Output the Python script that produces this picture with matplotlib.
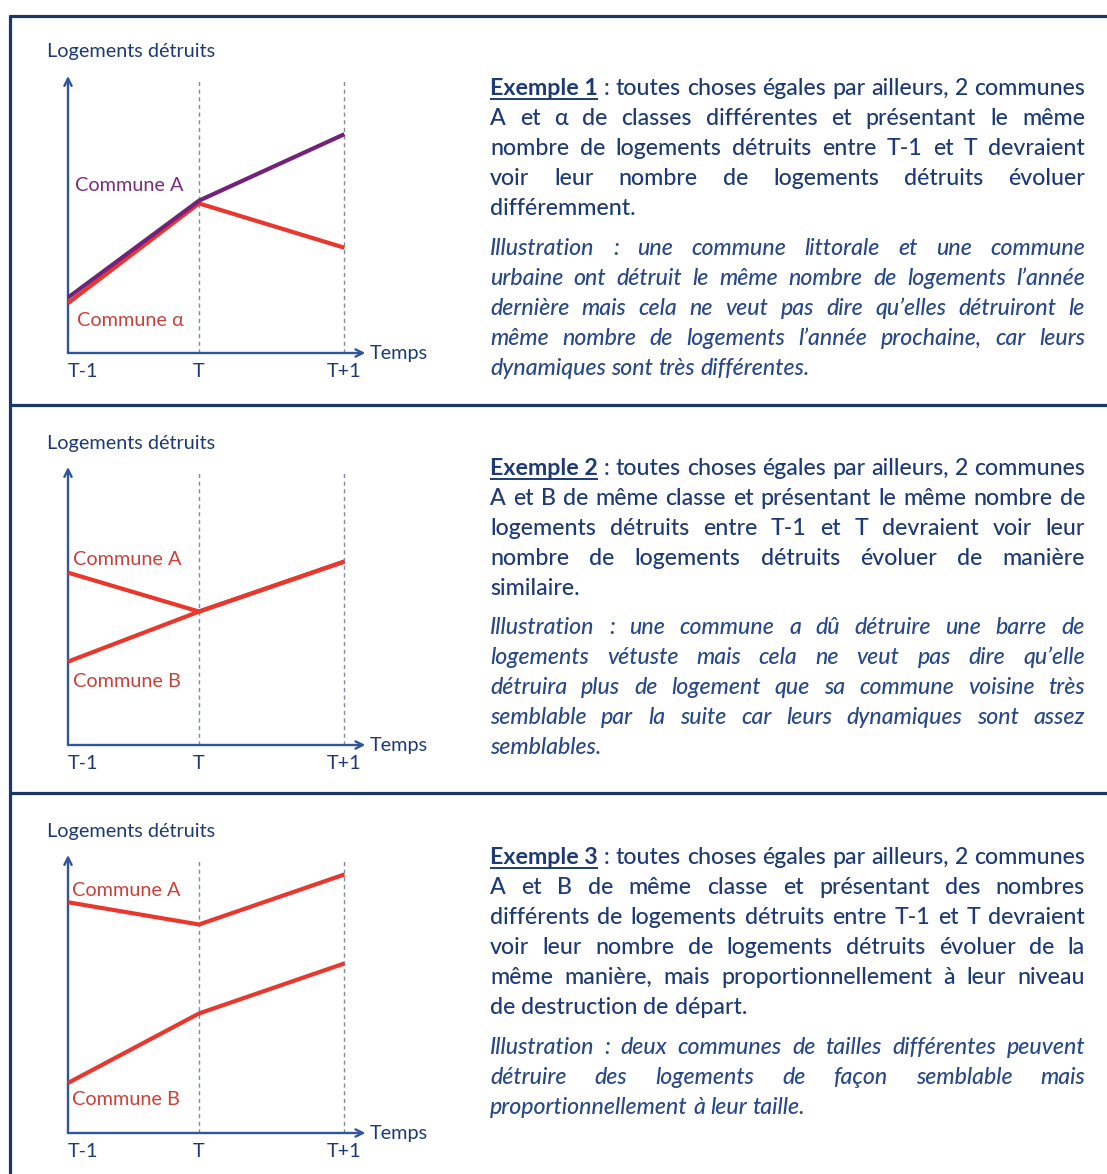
import matplotlib
matplotlib.use('Agg')
import matplotlib.pyplot as plt

# ---------------- data ----------------
time_labels = ["T-1", "T", "T+1"]
time_pos = [0.0, 1.0, 2.11]

ex1_commune_A = [20, 55, 79]
ex1_commune_alpha = [18, 54, 38]
ex2_commune_A = [62, 48, 66]
ex2_commune_B = [30, 48, 66]
ex3_commune_A = [83, 75, 93]
ex3_commune_B = [18, 43, 61]

y_axis_label = "Logements détruits"
x_axis_label = "Temps"

ex1_main = ["toutes choses égales par ailleurs, 2 communes",
            "A et α de classes différentes et présentant le même",
            "nombre de logements détruits entre T-1 et T devraient",
            "voir leur nombre de logements détruits évoluer",
            "différemment."]
ex1_illus = ["Illustration : une commune littorale et une commune",
             "urbaine ont détruit le même nombre de logements l’année",
             "dernière mais cela ne veut pas dire qu’elles détruiront le",
             "même nombre de logements l’année prochaine, car leurs",
             "dynamiques sont très différentes."]
ex2_main = ["toutes choses égales par ailleurs, 2 communes",
            "A et B de même classe et présentant le même nombre de",
            "logements détruits entre T-1 et T devraient voir leur",
            "nombre de logements détruits évoluer de manière",
            "similaire."]
ex2_illus = ["Illustration : une commune a dû détruire une barre de",
             "logements vétuste mais cela ne veut pas dire qu’elle",
             "détruira plus de logement que sa commune voisine très",
             "semblable par la suite car leurs dynamiques sont assez",
             "semblables."]
ex3_main = ["toutes choses égales par ailleurs, 2 communes",
            "A et B de même classe et présentant des nombres",
            "différents de logements détruits entre T-1 et T devraient",
            "voir leur nombre de logements détruits évoluer de la",
            "même manière, mais proportionnellement à leur niveau",
            "de destruction de départ."]
ex3_illus = ["Illustration : deux communes de tailles différentes peuvent",
             "détruire des logements de façon semblable mais",
             "proportionnellement à leur taille."]

# ---------------- style ----------------
W, H, DPI = 1107, 1174, 100
NAVY = '#1B3667'
AXIS = '#2F559A'
DASH = '#7F8BA6'
TXT = '#1D3A74'
ITXT = '#284887'
RED = '#E8382E'
RED_TXT = '#C9413A'
PURPLE = '#74217A'
PURPLE_TXT = '#7A2D7E'
FAM = ['Lato', 'DejaVu Sans']
CFS = 14.3  # chart label font size

fig = plt.figure(figsize=(W / DPI, H / DPI), dpi=DPI)
fig.patch.set_facecolor('white')
bg = fig.add_axes([0, 0, 1, 1])
bg.set_xlim(0, W)
bg.set_ylim(H, 0)
bg.axis('off')

# frame lines
blw = 2.3
bg.plot([9, W], [16, 16], color=NAVY, lw=blw, solid_capstyle='butt')
bg.plot([10, 10], [15, H], color=NAVY, lw=blw, solid_capstyle='butt')
bg.plot([10, W], [405, 405], color=NAVY, lw=blw, solid_capstyle='butt')
bg.plot([10, W], [793, 793], color=NAVY, lw=blw, solid_capstyle='butt')

X_UNIT = 131.0  # px per time unit


def draw_chart(axis_y, top_y, series, colors, labels, label_xy, label_colors):
    hpx = axis_y - top_y
    wpx = 300
    ax = fig.add_axes([68 / W, 1 - axis_y / H, wpx / W, hpx / H])
    ax.set_xlim(0, wpx / X_UNIT)
    ax.set_ylim(0, 100)
    ax.patch.set_alpha(0)
    for s in ax.spines.values():
        s.set_visible(False)
    ax.set_yticks([])
    ax.set_xticks(time_pos)
    ax.set_xticklabels(time_labels, fontsize=CFS, color=TXT, family=FAM)
    ax.tick_params(axis='x', length=0, pad=7.5)
    ax.get_xticklabels()[0].set_ha('left')
    # dashed guides
    ax.vlines(time_pos[1:], 0, 99, colors=DASH, linestyles=(0, (3, 2.5)), lw=1.0)
    # axes arrows
    ap = dict(arrowstyle='->', color=AXIS, lw=1.7, shrinkA=0, shrinkB=0, mutation_scale=13)
    ax.annotate('', xy=(2.27, 0), xytext=(0, 0), arrowprops=ap, annotation_clip=False)
    ax.annotate('', xy=(0, 100), xytext=(0, 0), arrowprops=ap, annotation_clip=False)
    for vals, c in zip(series, colors):
        ax.plot(time_pos, vals, color=c, lw=3.0, solid_capstyle='butt', clip_on=False, zorder=3)
    for lab, (lx, ly), c in zip(labels, label_xy, label_colors):
        ax.text(lx, ly, lab, color=c, fontsize=CFS, family=FAM, ha='left', va='center')
    ax.text(-21 / wpx, 1 + 24 / hpx, y_axis_label, transform=ax.transAxes, color=TXT,
            fontsize=CFS, family=FAM, ha='left', va='center')
    ax.text(302 / wpx, -1 / hpx, x_axis_label, transform=ax.transAxes, color=TXT,
            fontsize=CFS, family=FAM, ha='left', va='center')
    return ax


draw_chart(353, 76, [ex1_commune_alpha, ex1_commune_A], [RED, PURPLE],
           ["Commune A", "Commune α"], [(0.053, 60.6), (0.066, 11.8)], [PURPLE_TXT, RED_TXT])
draw_chart(745, 467, [ex2_commune_A, ex2_commune_B], [RED, RED],
           ["Commune A", "Commune B"], [(0.04, 66.8), (0.04, 22.9)], [RED_TXT, RED_TXT])
draw_chart(1133, 855, [ex3_commune_A, ex3_commune_B], [RED, RED],
           ["Commune A", "Commune B"], [(0.03, 87.3), (0.03, 12.1)], [RED_TXT, RED_TXT])

# ---------------- justified text ----------------
renderer = fig.canvas.get_renderer()
X0, X1 = 490, 1085
LINE = 29.9


def style_kw(kind, fs):
    kw = dict(fontsize=fs, family=FAM, color=TXT, fontweight='medium')
    if kind == 'bold':
        kw['fontweight'] = 'bold'
    if kind == 'ital':
        kw['style'] = 'italic'
        kw['color'] = ITXT
    return kw


def measure(s, kw):
    t = bg.text(0, 0, s, **kw)
    w = t.get_window_extent(renderer).width
    t.remove()
    return w


def tokens_for(lines, kind, header=None):
    out = []
    for i, ln in enumerate(lines):
        toks = [(w, kind) for w in ln.split()]
        if i == 0 and header is not None:
            toks = [(header, 'bold'), (':', kind)] + toks
        out.append(toks)
    return out


def space_w(kind, fs):
    kw = style_kw(kind, fs)
    return measure('a a', kw) - measure('aa', kw)


def natural_width(toks, fs):
    ws = [measure(t, style_kw(k, fs)) for t, k in toks]
    return sum(ws) + space_w(toks[-1][1], fs) * (len(toks) - 1)


paragraphs = [
    (tokens_for(ex1_main, 'reg', 'Exemple 1'), 95),
    (tokens_for(ex1_illus, 'ital'), 255),
    (tokens_for(ex2_main, 'reg', 'Exemple 2'), 475),
    (tokens_for(ex2_illus, 'ital'), 634),
    (tokens_for(ex3_main, 'reg', 'Exemple 3'), 864),
    (tokens_for(ex3_illus, 'ital'), 1054),
]

BASE_FS = 18.0
ratio = 1.0
for toks_lines, _ in paragraphs:
    for toks in toks_lines[:-1]:
        nw = natural_width(toks, BASE_FS)
        ratio = min(ratio, (X1 - X0) / nw)
FS = BASE_FS * ratio

for toks_lines, yb in paragraphs:
    for li, toks in enumerate(toks_lines):
        y = yb + li * LINE
        ws = [measure(t, style_kw(k, FS)) for t, k in toks]
        last = li == len(toks_lines) - 1
        if last:
            gap = space_w(toks[-1][1], FS)
        else:
            gap = (X1 - X0 - sum(ws)) / (len(toks) - 1)
        x = X0
        for (t, k), w in zip(toks, ws):
            bg.text(x, y, t, va='baseline', ha='left', **style_kw(k, FS))
            if k == 'bold':
                bg.plot([x, x + w], [y + 4, y + 4], color=TXT, lw=1.4, solid_capstyle='butt')
            x += w + gap

fig.savefig('out.png', dpi=DPI, facecolor='white')
